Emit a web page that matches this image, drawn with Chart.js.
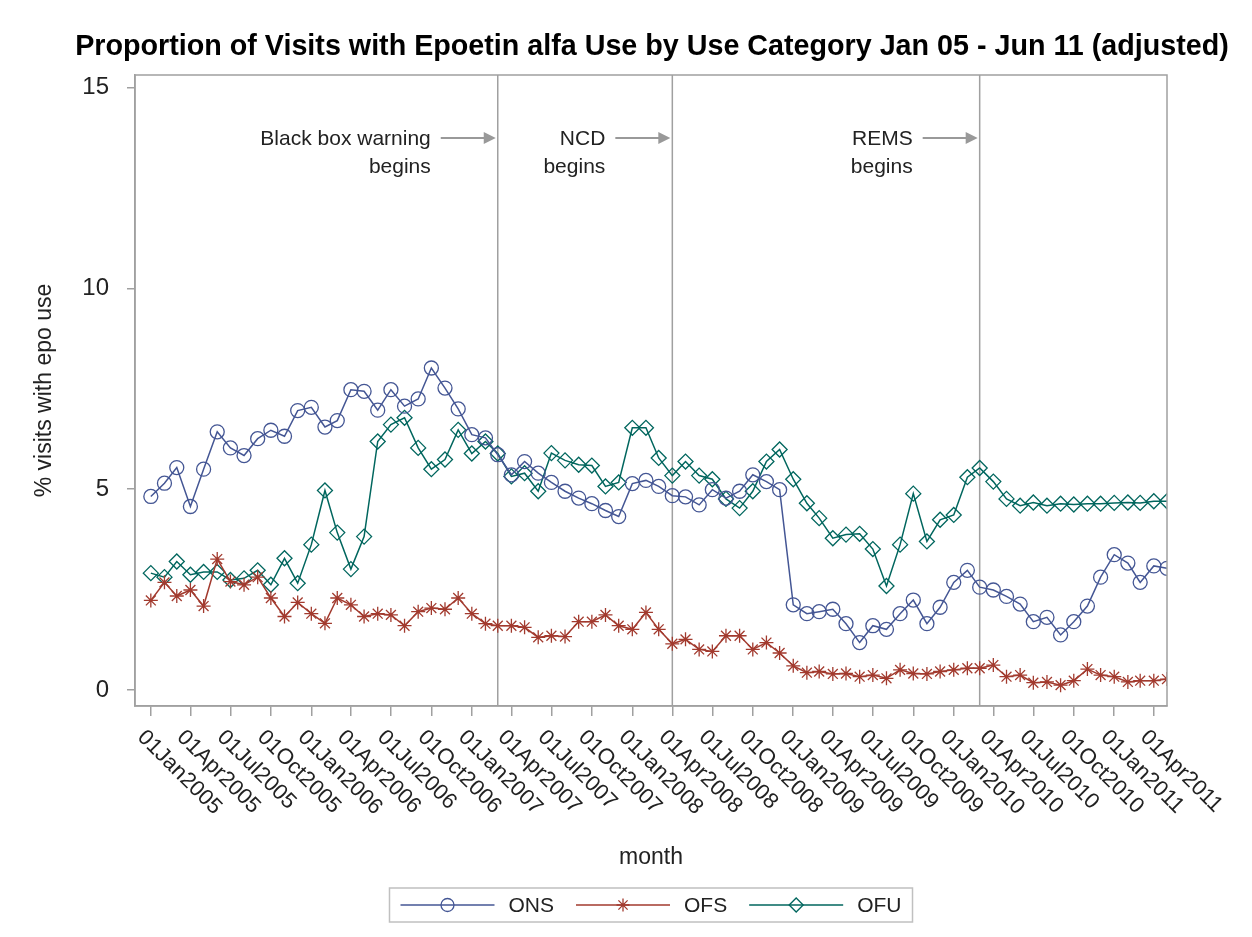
<!DOCTYPE html>
<html>
<head>
<meta charset="utf-8">
<script src="https://cdn.jsdelivr.net/npm/chart.js@4.4.1/dist/chart.umd.min.js"></script>
<style>
  body { margin: 0; background: #fff; }
  canvas { display: block; }
</style>
</head>
<body>
<canvas id="chart" width="1252" height="937"></canvas>
<script>
// monthly categories, Jan 2005 .. May 2011
const months = [
  '2005-01','2005-02','2005-03','2005-04','2005-05','2005-06','2005-07','2005-08','2005-09','2005-10','2005-11','2005-12',
  '2006-01','2006-02','2006-03','2006-04','2006-05','2006-06','2006-07','2006-08','2006-09','2006-10','2006-11','2006-12',
  '2007-01','2007-02','2007-03','2007-04','2007-05','2007-06','2007-07','2007-08','2007-09','2007-10','2007-11','2007-12',
  '2008-01','2008-02','2008-03','2008-04','2008-05','2008-06','2008-07','2008-08','2008-09','2008-10','2008-11','2008-12',
  '2009-01','2009-02','2009-03','2009-04','2009-05','2009-06','2009-07','2009-08','2009-09','2009-10','2009-11','2009-12',
  '2010-01','2010-02','2010-03','2010-04','2010-05','2010-06','2010-07','2010-08','2010-09','2010-10','2010-11','2010-12',
  '2011-01','2011-02','2011-03','2011-04','2011-05'
];

const ons = [
  4.82, 5.15, 5.54, 4.57, 5.50, 6.43, 6.03, 5.84, 6.26, 6.47, 6.32, 6.96,
  7.04, 6.55, 6.71, 7.48, 7.44, 6.97, 7.48, 7.07, 7.25, 8.02, 7.52, 7.00,
  6.36, 6.28, 5.86, 5.36, 5.69, 5.40, 5.17, 4.95, 4.78, 4.64, 4.47, 4.32,
  5.14, 5.22, 5.07, 4.84, 4.81, 4.61, 4.99, 4.78, 4.95, 5.36, 5.19, 4.99,
  2.12, 1.90, 1.95, 2.01, 1.65, 1.18, 1.60, 1.51, 1.90, 2.24, 1.65, 2.06,
  2.68, 2.98, 2.56, 2.49, 2.33, 2.14, 1.70, 1.81, 1.37, 1.70, 2.09, 2.81,
  3.37, 3.16, 2.68, 3.09, 3.03
];

const ofs = [
  2.23, 2.68, 2.34, 2.49, 2.09, 3.26, 2.70, 2.62, 2.81, 2.29, 1.83, 2.18,
  1.90, 1.66, 2.29, 2.12, 1.83, 1.90, 1.87, 1.60, 1.95, 2.04, 2.01, 2.29,
  1.90, 1.65, 1.60, 1.60, 1.56, 1.31, 1.35, 1.33, 1.70, 1.70, 1.87, 1.60,
  1.51, 1.93, 1.51, 1.15, 1.26, 1.01, 0.96, 1.35, 1.35, 1.01, 1.18, 0.92,
  0.60, 0.43, 0.46, 0.40, 0.41, 0.33, 0.37, 0.29, 0.50, 0.41, 0.40, 0.46,
  0.50, 0.54, 0.54, 0.62, 0.33, 0.37, 0.18, 0.20, 0.12, 0.23, 0.52, 0.37,
  0.33, 0.20, 0.23, 0.23, 0.27
];

const ofu = [
  2.91, 2.81, 3.20, 2.87, 2.94, 2.94, 2.74, 2.78, 2.98, 2.62, 3.28, 2.66,
  3.62, 4.97, 3.92, 3.01, 3.82, 6.19, 6.61, 6.78, 6.03, 5.50, 5.74, 6.48,
  5.89, 6.19, 5.89, 5.32, 5.40, 4.95, 5.90, 5.72, 5.61, 5.59, 5.07, 5.17,
  6.53, 6.53, 5.78, 5.34, 5.69, 5.34, 5.25, 4.76, 4.53, 4.95, 5.69, 5.99,
  5.25, 4.65, 4.28, 3.78, 3.87, 3.89, 3.51, 2.59, 3.62, 4.89, 3.70, 4.24,
  4.36, 5.30, 5.53, 5.19, 4.76, 4.59, 4.67, 4.59, 4.64, 4.62, 4.64, 4.64,
  4.66, 4.67, 4.66, 4.70, 4.70
];

const tickLabels = [
  '01Jan2005','01Apr2005','01Jul2005','01Oct2005','01Jan2006','01Apr2006','01Jul2006','01Oct2006',
  '01Jan2007','01Apr2007','01Jul2007','01Oct2007','01Jan2008','01Apr2008','01Jul2008','01Oct2008',
  '01Jan2009','01Apr2009','01Jul2009','01Oct2009','01Jan2010','01Apr2010','01Jul2010','01Oct2010',
  '01Jan2011','01Apr2011'
];
const yTicks = [0, 5, 10, 15];

const refDates = ['2007-03', '2008-04', '2010-03'];
const refTexts = [['Black box warning', 'begins'], ['NCD', 'begins'], ['REMS', 'begins']];

const seriesNames = ['ONS', 'OFS', 'OFU'];
const seriesColors = ['#445694', '#A23A2E', '#01665E'];
const seriesMarkers = ['circle', 'star', 'rectRot'];
const markerSizes = [7, 7, 7.5];

const MON = {Jan:0,Feb:1,Mar:2,Apr:3,May:4,Jun:5,Jul:6,Aug:7,Sep:8,Oct:9,Nov:10,Dec:11};
const BASE = Date.UTC(2005, 0, 1);
function dayOf(ym) {
  const [y, m] = ym.split('-').map(Number);
  return (Date.UTC(y, m - 1, 1) - BASE) / 86400000;
}
function dayOfLabel(s) {
  return (Date.UTC(+s.slice(5), MON[s.slice(2, 5)], +s.slice(0, 2)) - BASE) / 86400000;
}

const FONT = '"Liberation Sans", Arial, sans-serif';
const TEXT = '#222';
const FRAME = '#a0a0a0';

function makeSet(i, vals) {
  return {
    label: seriesNames[i],
    data: months.map((m, k) => ({x: dayOf(m), y: vals[k]})),
    borderColor: seriesColors[i],
    backgroundColor: 'rgba(0,0,0,0)',
    borderWidth: 1.5,
    pointStyle: seriesMarkers[i],
    pointRadius: markerSizes[i],
    pointBorderWidth: 1.3,
    pointBorderColor: seriesColors[i],
    pointBackgroundColor: 'rgba(0,0,0,0)',
    tension: 0,
    clip: 0
  };
}

const decor = {
  id: 'decor',
  beforeDatasetsDraw(chart) {
    const {ctx, chartArea: a, scales: {x}} = chart;
    ctx.save();
    ctx.strokeStyle = FRAME;
    ctx.lineWidth = 1.5;
    refDates.forEach(d => {
      const px = x.getPixelForValue(dayOf(d));
      ctx.beginPath();
      ctx.moveTo(px, a.top);
      ctx.lineTo(px, a.bottom);
      ctx.stroke();
    });
    ctx.restore();
  },
  afterDraw(chart) {
    const {ctx, chartArea: a, scales: {x}} = chart;
    ctx.save();

    // plot frame
    ctx.strokeStyle = FRAME;
    ctx.lineWidth = 1.5;
    ctx.strokeRect(a.left, a.top, a.right - a.left, a.bottom - a.top);

    // title
    ctx.fillStyle = '#000';
    ctx.font = 'bold 28.7px ' + FONT;
    ctx.textAlign = 'center';
    ctx.textBaseline = 'middle';
    ctx.fillText('Proportion of Visits with Epoetin alfa Use by Use Category Jan 05 - Jun 11 (adjusted)', 652, 47);

    // axis titles
    ctx.fillStyle = TEXT;
    ctx.font = '23px ' + FONT;
    ctx.fillText('month', (a.left + a.right) / 2, 858);
    ctx.save();
    ctx.translate(45, (a.top + a.bottom) / 2);
    ctx.rotate(-Math.PI / 2);
    ctx.fillText('% visits with epo use', 0, 0);
    ctx.restore();

    // rotated x tick labels
    ctx.font = '22px ' + FONT;
    ctx.textAlign = 'left';
    tickLabels.forEach(t => {
      const px = x.getPixelForValue(dayOfLabel(t));
      ctx.save();
      ctx.translate(px - 10, a.bottom + 28);
      ctx.rotate(Math.PI / 4);
      ctx.fillText(t, 0, 0);
      ctx.restore();
    });

    // annotations with arrows
    ctx.font = '21px ' + FONT;
    ctx.textAlign = 'right';
    refDates.forEach((d, i) => {
      const px = x.getPixelForValue(dayOf(d));
      const tx = px - 67;
      ctx.fillStyle = TEXT;
      ctx.fillText(refTexts[i][0], tx, 139);
      ctx.fillText(refTexts[i][1], tx, 167);
      ctx.strokeStyle = '#999';
      ctx.fillStyle = '#999';
      ctx.lineWidth = 2;
      ctx.beginPath();
      ctx.moveTo(tx + 10, 138);
      ctx.lineTo(px - 12, 138);
      ctx.stroke();
      ctx.beginPath();
      ctx.moveTo(px - 2, 138);
      ctx.lineTo(px - 14, 132);
      ctx.lineTo(px - 14, 144);
      ctx.closePath();
      ctx.fill();
    });

    // legend
    ctx.font = '21px ' + FONT;
    ctx.textAlign = 'left';
    const lineLen = 94, gap = 14, itemGap = 22, pad = 11;
    const widths = seriesNames.map(n => ctx.measureText(n).width);
    let total = pad * 2;
    widths.forEach((w, i) => { total += lineLen + gap + w + (i < widths.length - 1 ? itemGap : 0); });
    const cx = (a.left + a.right) / 2;
    const ly = 905;
    let lx = cx - total / 2;
    ctx.strokeStyle = '#c0c0c0';
    ctx.lineWidth = 1.5;
    ctx.strokeRect(lx, 888, total, 34);
    lx += pad;
    seriesNames.forEach((name, i) => {
      ctx.strokeStyle = seriesColors[i];
      ctx.fillStyle = 'rgba(0,0,0,0)';
      ctx.lineWidth = 1.5;
      ctx.beginPath();
      ctx.moveTo(lx, ly);
      ctx.lineTo(lx + lineLen, ly);
      ctx.stroke();
      ctx.lineWidth = 1.3;
      Chart.helpers.drawPoint(ctx, {pointStyle: seriesMarkers[i], radius: markerSizes[i] - 0.5, borderWidth: 1.3}, lx + lineLen / 2, ly);
      ctx.fillStyle = TEXT;
      ctx.fillText(name, lx + lineLen + gap, ly + 1);
      lx += lineLen + gap + widths[i] + itemGap;
    });

    ctx.restore();
  }
};

new Chart(document.getElementById('chart'), {
  type: 'line',
  data: {
    datasets: [makeSet(0, ons), makeSet(1, ofs), makeSet(2, ofu)]
  },
  options: {
    responsive: false,
    animation: false,
    layout: { padding: { top: 75, right: 85, left: 0, bottom: 0 } },
    plugins: {
      legend: { display: false },
      title: { display: false },
      tooltip: { enabled: false }
    },
    scales: {
      x: {
        type: 'linear',
        min: -36,
        max: dayOf('2011-05'),
        afterBuildTicks: s => { s.ticks = tickLabels.map(t => ({value: dayOfLabel(t)})); },
        afterFit: s => { s.height = 937 - 706; },
        ticks: { display: false },
        grid: { drawOnChartArea: false, drawTicks: true, tickLength: 10, color: FRAME, lineWidth: 1.5 },
        border: { display: true, color: FRAME, width: 1.5 }
      },
      y: {
        min: -0.4,
        max: 15.32,
        afterBuildTicks: s => { s.ticks = yTicks.map(v => ({value: v})); },
        afterFit: s => { s.width = 135; },
        ticks: { font: { family: FONT, size: 24 }, color: TEXT, padding: 18 },
        grid: { drawOnChartArea: false, drawTicks: true, tickLength: 8, color: FRAME, lineWidth: 1.5 },
        border: { display: true, color: FRAME, width: 1.5 }
      }
    }
  },
  plugins: [decor]
});
</script>
</body>
</html>
